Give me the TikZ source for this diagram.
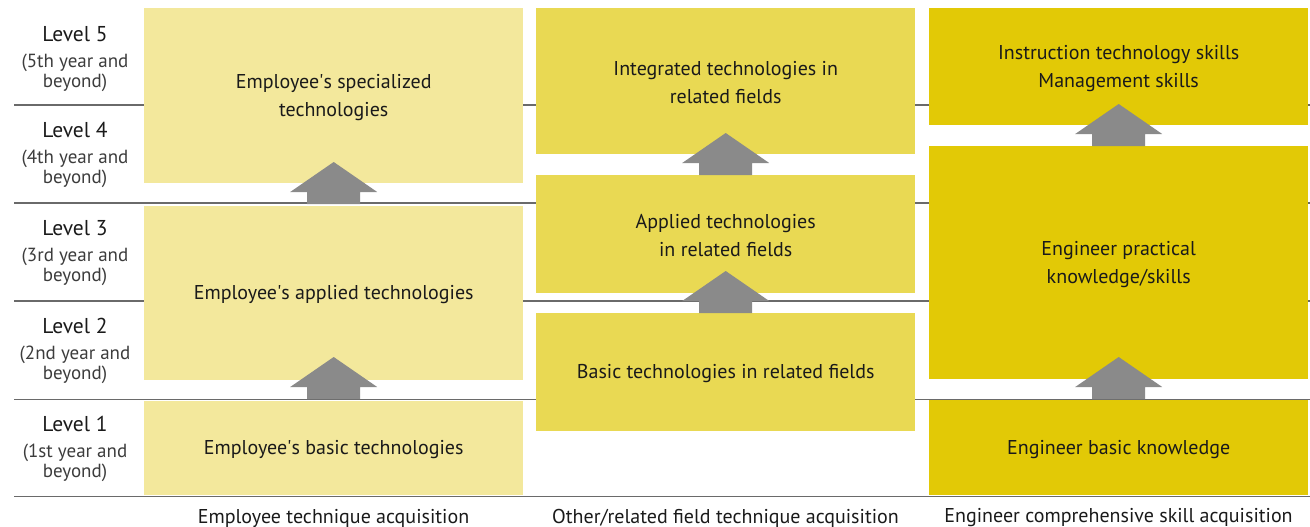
\documentclass[tikz,border=0pt]{standalone}
\usepackage{fontspec}
\setmainfont{PT Sans}
\definecolor{cA}{HTML}{F3E89C}
\definecolor{cB}{HTML}{E9D953}
\definecolor{cC}{HTML}{E2C906}
\definecolor{arrowgray}{HTML}{8A8A8A}
\definecolor{rulegray}{HTML}{6A6A6A}
\definecolor{subgray}{HTML}{3C3C3C}
\definecolor{txt}{HTML}{1A1A1A}
\newcommand{\apos}{\textquotesingle}
\tikzset{
  box/.style={inner sep=0pt, anchor=north west, align=center, text=txt,
    font=\fontsize{20}{28}\selectfont},
  boxtext/.style={text=txt, align=center, inner sep=0pt, font=\fontsize{20}{28}\selectfont},
  lvl/.style={text=txt, font=\fontsize{21.5}{22}\selectfont, inner sep=0pt},
  lvlsub/.style={text=subgray, align=center, font=\fontsize{19}{20}\selectfont, inner sep=0pt},
  collabel/.style={text=txt, font=\fontsize{20}{20}\selectfont, inner sep=0pt},
  rowline/.style={draw=rulegray, line width=1.6pt},
  uparrow/.pic={\fill[arrowgray] (-26.5,0) -- (-26.5,-12) -- (-43.5,-12) -- (0,-42) -- (43.5,-12) -- (26.5,-12) -- (26.5,0) -- cycle;}
}
\begin{document}
\begin{tikzpicture}[x=1pt,y=-1pt]
\useasboundingbox (0,0) rectangle (1310,527);
% row lines
\foreach \yy in {105,203,301,399.5,496.5} {
  \draw[rowline] (14,\yy) -- (1310,\yy);
}
% level labels
\foreach \n/\yy/\s in {5/34/5th,4/130/4th,3/228/3rd,2/326/2nd,1/424/1st} {
  \node[lvl] (L\n) at (75,\yy) {Level \n};
  \node[lvlsub] (L\n s) at (75,\yy+38.5) {(\s{} year and\\beyond)};
}
% column 1
\node[box, fill=cA, minimum width=379pt, minimum height=175pt] (a3) at (144,8) {};
\node[box, fill=cA, minimum width=379pt, minimum height=174pt] (a2) at (144,206) {};
\node[box, fill=cA, minimum width=379pt, minimum height=94pt] (a1) at (144,401) {};
% column 2
\node[box, fill=cB, minimum width=379pt, minimum height=146pt] (b3) at (536,8) {};
\node[box, fill=cB, minimum width=379pt, minimum height=118pt] (b2) at (536,175) {};
\node[box, fill=cB, minimum width=379pt, minimum height=118pt] (b1) at (536,313) {};
% column 3
\node[box, fill=cC, minimum width=379pt, minimum height=117pt] (c3) at (929,8) {};
\node[box, fill=cC, minimum width=379pt, minimum height=233pt] (c2) at (929,146) {};
\node[box, fill=cC, minimum width=379pt, minimum height=95pt] (c1) at (929,400) {};
% box texts
\node[boxtext] (ta3) at ([yshift=-1.5pt]a3.center) {Employee\apos s specialized\\technologies};
\node[boxtext] (ta2) at ([yshift=-1.5pt]a2.center) {Employee\apos s applied technologies};
\node[boxtext] (ta1) at ([yshift=-1.5pt]a1.center) {Employee\apos s basic technologies};
\node[boxtext] (tb3) at ([yshift=-1.5pt]b3.center) {Integrated technologies in\\related fields};
\node[boxtext] (tb2) at ([yshift=-1.5pt]b2.center) {Applied technologies\\in related fields};
\node[boxtext] (tb1) at ([yshift=-1.5pt]b1.center) {Basic technologies in related fields};
\node[boxtext] (tc3) at ([yshift=-1.5pt]c3.center) {Instruction technology skills\\Management skills};
\node[boxtext] (tc2) at ([yshift=-1.5pt]c2.center) {Engineer practical\\knowledge/skills};
\node[boxtext] (tc1) at ([yshift=-1.5pt]c1.center) {Engineer basic knowledge};
% arrows
\path (a2.north) ++(0,-2) pic {uparrow};
\path (a1.north) ++(0,-2) pic {uparrow};
\path (b2.north) pic {uparrow};
\path (b1.north) pic {uparrow};
\path (c2.north) pic {uparrow};
\path (c1.north) ++(0,-1) pic {uparrow};
% column labels
\node[collabel] (la) at (333.5,518) {Employee technique acquisition};
\node[collabel] (lb) at (725.5,518) {Other/related field technique acquisition};
\node[collabel] (lc) at (1118.5,518) {Engineer comprehensive skill acquisition};
\end{tikzpicture}
\end{document}
